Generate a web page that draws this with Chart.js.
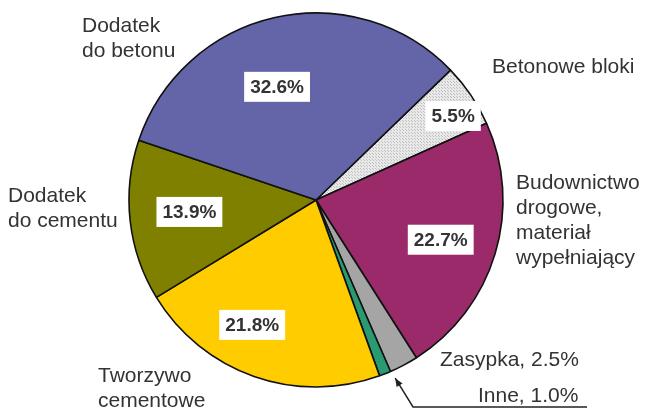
<!DOCTYPE html>
<html>
<head>
<meta charset="utf-8">
<script src="https://cdn.jsdelivr.net/npm/chart.js@4/dist/chart.umd.min.js"></script>
<style>
  html, body { margin: 0; padding: 0; background: #fff; }
  #wrap { width: 645px; height: 411px; position: relative; }
</style>
</head>
<body>
<div id="wrap"><canvas id="pieChart" width="645" height="411"></canvas></div>
<script>
// dane wykresu (kolejnosc zgodnie z ruchem wskazowek zegara)
const categories = ['Betonowe bloki', 'Budownictwo drogowe, materiał wypełniający', 'Zasypka', 'Inne', 'Tworzywo cementowe', 'Dodatek do cementu', 'Dodatek do betonu'];
const shares = [5.5, 22.7, 2.5, 1.0, 21.8, 13.9, 32.6];
const percentLabels = ['5.5%', '22.7%', null, null, '21.8%', '13.9%', '32.6%'];

// polozenie etykiet w kole: ulamek promienia i przesuniecie kata (stopnie)
const labelRadius = [0.86, 0.70, 0, 0, 0.75, 0.68, 0.64];
const labelTurn = [2.6, 1.0, 0, 0, 7.7, 1.0, -6.3];

document.addEventListener('DOMContentLoaded', function() {
    const ctx = document.getElementById('pieChart');

    // kropkowany wzor dla "Betonowe bloki"
    const pc = document.createElement('canvas');
    pc.width = 3; pc.height = 3;
    const p = pc.getContext('2d');
    p.fillStyle = '#e8e8e8';
    p.fillRect(0, 0, 3, 3);
    p.fillStyle = '#c0c0c0';
    p.fillRect(0, 0, 1, 1);
    p.fillRect(1, 1, 1, 1);
    const dots = p.createPattern(pc, 'repeat');

    const colors = [dots, '#9b2a6b', '#a5a5a5', '#2a9a72', '#ffcc00', '#808000', '#6464a8'];

    const outerText = [
        { lines: ['Dodatek', 'do betonu'], x: 82, y: 26 },
        { lines: ['Betonowe bloki'], x: 492, y: 67 },
        { lines: ['Budownictwo', 'drogowe,', 'materiał', 'wypełniający'], x: 516, y: 183 },
        { lines: ['Dodatek', 'do cementu'], x: 8, y: 196 },
        { lines: ['Tworzywo', 'cementowe'], x: 98, y: 376 },
        { lines: ['Zasypka, 2.5%'], x: 440, y: 360 },
        { lines: ['Inne, 1.0%'], x: 478, y: 396 }
    ];

    const labelsPlugin = {
        id: 'pieLabels',
        afterDraw(chart) {
            const c = chart.ctx;
            const arcs = chart.getDatasetMeta(0).data;
            c.save();

            // etykiety procentowe w bialych ramkach
            c.font = 'bold 19px "Liberation Sans", Arial, sans-serif';
            c.textAlign = 'center';
            c.textBaseline = 'middle';
            arcs.forEach((arc, i) => {
                if (!percentLabels[i]) return;
                const mid = (arc.startAngle + arc.endAngle) / 2 + labelTurn[i] * Math.PI / 180;
                const r = arc.outerRadius * labelRadius[i];
                const x = arc.x + Math.cos(mid) * r;
                const y = arc.y + Math.sin(mid) * r;
                const w = c.measureText(percentLabels[i]).width + 12;
                c.fillStyle = '#fff';
                c.fillRect(x - w / 2, y - 15, w, 30);
                c.fillStyle = '#333';
                c.fillText(percentLabels[i], x, y + 1);
            });

            // opisy na zewnatrz
            c.font = '21px "Liberation Sans", Arial, sans-serif';
            c.textAlign = 'left';
            c.fillStyle = '#333';
            outerText.forEach(t => {
                t.lines.forEach((line, k) => c.fillText(line, t.x, t.y + k * 25));
            });

            // linia odniesienia dla "Inne"
            const inne = arcs[3];
            const a = (inne.startAngle + inne.endAngle) / 2 - 0.04;
            const tx = inne.x + Math.cos(a) * (inne.outerRadius + 8);
            const ty = inne.y + Math.sin(a) * (inne.outerRadius + 8);
            c.strokeStyle = '#222';
            c.lineWidth = 1.5;
            c.beginPath();
            c.moveTo(587, 407);
            c.lineTo(413, 407);
            c.lineTo(tx, ty);
            c.stroke();
            const ang = Math.atan2(ty - 407, tx - 413);
            c.fillStyle = '#222';
            c.beginPath();
            c.moveTo(tx, ty);
            c.lineTo(tx - 9 * Math.cos(ang - 0.4), ty - 9 * Math.sin(ang - 0.4));
            c.lineTo(tx - 9 * Math.cos(ang + 0.4), ty - 9 * Math.sin(ang + 0.4));
            c.closePath();
            c.fill();

            c.restore();
        }
    };

    new Chart(ctx, {
        type: 'pie',
        data: {
            labels: categories,
            datasets: [{
                data: shares,
                backgroundColor: colors,
                borderColor: '#111',
                borderWidth: 1.6,
                radius: 187
            }]
        },
        options: {
            responsive: false,
            animation: false,
            rotation: 46,
            layout: { padding: { left: 0, right: 13, top: 0, bottom: 11 } },
            plugins: { legend: { display: false }, tooltip: { enabled: false } }
        },
        plugins: [labelsPlugin]
    });
});
</script>
</body>
</html>
